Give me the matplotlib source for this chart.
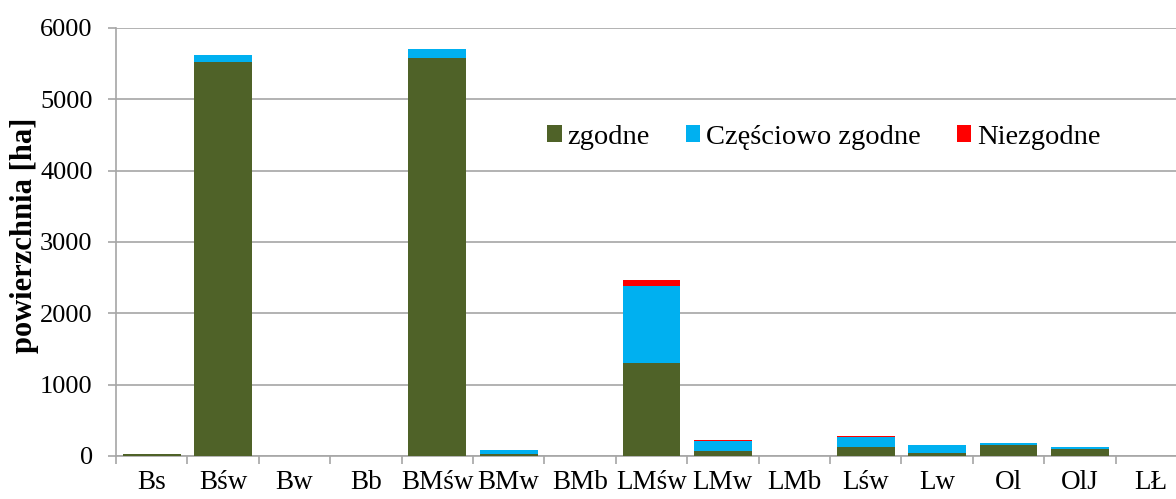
import matplotlib
matplotlib.use("Agg")
import matplotlib.pyplot as plt
import numpy as np

categories = ["Bs", "Bśw", "Bw", "Bb", "BMśw", "BMw", "BMb", "LMśw", "LMw", "LMb", "Lśw", "Lw", "Ol", "OlJ", "LŁ"]
zgodne = [25, 5525, 0, 0, 5585, 35, 0, 1300, 75, 0, 130, 47, 160, 105, 0]
czesciowo = [0, 100, 0, 0, 120, 45, 0, 1085, 140, 5, 135, 105, 22, 22, 0]
niezgodne = [0, 0, 0, 0, 0, 0, 0, 85, 5, 0, 18, 3, 0, 0, 0]
yticks = [0, 1000, 2000, 3000, 4000, 5000, 6000]

plt.rcParams['font.family'] = ['Liberation Serif', 'DejaVu Serif']

fig = plt.figure(figsize=(11.76, 4.99), dpi=100)
ax = fig.add_axes([116/1176, 43/499, 1071/1176, 428/499])

x = np.arange(len(categories))
w = 0.81
z = np.array(zgodne); c = np.array(czesciowo); n = np.array(niezgodne)
ax.bar(x, z, w, color="#4F6228", label="zgodne", zorder=3)
ax.bar(x, c, w, bottom=z, color="#00B0F0", label="Częściowo zgodne", zorder=3)
ax.bar(x, n, w, bottom=z + c, color="#FF0000", label="Niezgodne", zorder=3)

ax.set_xlim(-0.5, len(categories) - 0.5)
ax.set_ylim(0, 6000)
ax.set_yticks(yticks)
ax.set_yticklabels([str(t) for t in yticks], fontsize=19)
ax.yaxis.grid(True, color="#A6A6A6", linewidth=1.2, zorder=0)
ax.set_axisbelow(True)

ax.set_xticks(np.arange(len(categories) + 1) - 0.5)
ax.set_xticklabels([])
ax.set_xticks(x, minor=True)
ax.set_xticklabels(categories, minor=True, fontsize=19.5)
ax.tick_params(axis='x', which='major', length=5.8, color="#A6A6A6", width=1.2)
ax.tick_params(axis='x', which='minor', length=0, pad=10)
ax.tick_params(axis='y', length=5.8, color="#A6A6A6", width=1.2, pad=11)

for s in ['top', 'right']:
    ax.spines[s].set_visible(False)
for s in ['left', 'bottom']:
    ax.spines[s].set_color("#A6A6A6")
    ax.spines[s].set_linewidth(1.2)

fig.text(25/1176, (499 - 235)/499, "powierzchnia [ha]", rotation=90, ha='center', va='center',
         fontsize=22, fontweight='bold')

leg = ax.legend(loc='center', ncol=3, frameon=False,
                fontsize=20.5, handlelength=0.5, handleheight=0.5, handletextpad=0.2, columnspacing=1.28,
                borderpad=0, borderaxespad=0)
leg.set_bbox_to_anchor(((824 - 116) / 1071, (456 - 137) / 428), transform=ax.transAxes)

fig.savefig("out.png", dpi=100)
